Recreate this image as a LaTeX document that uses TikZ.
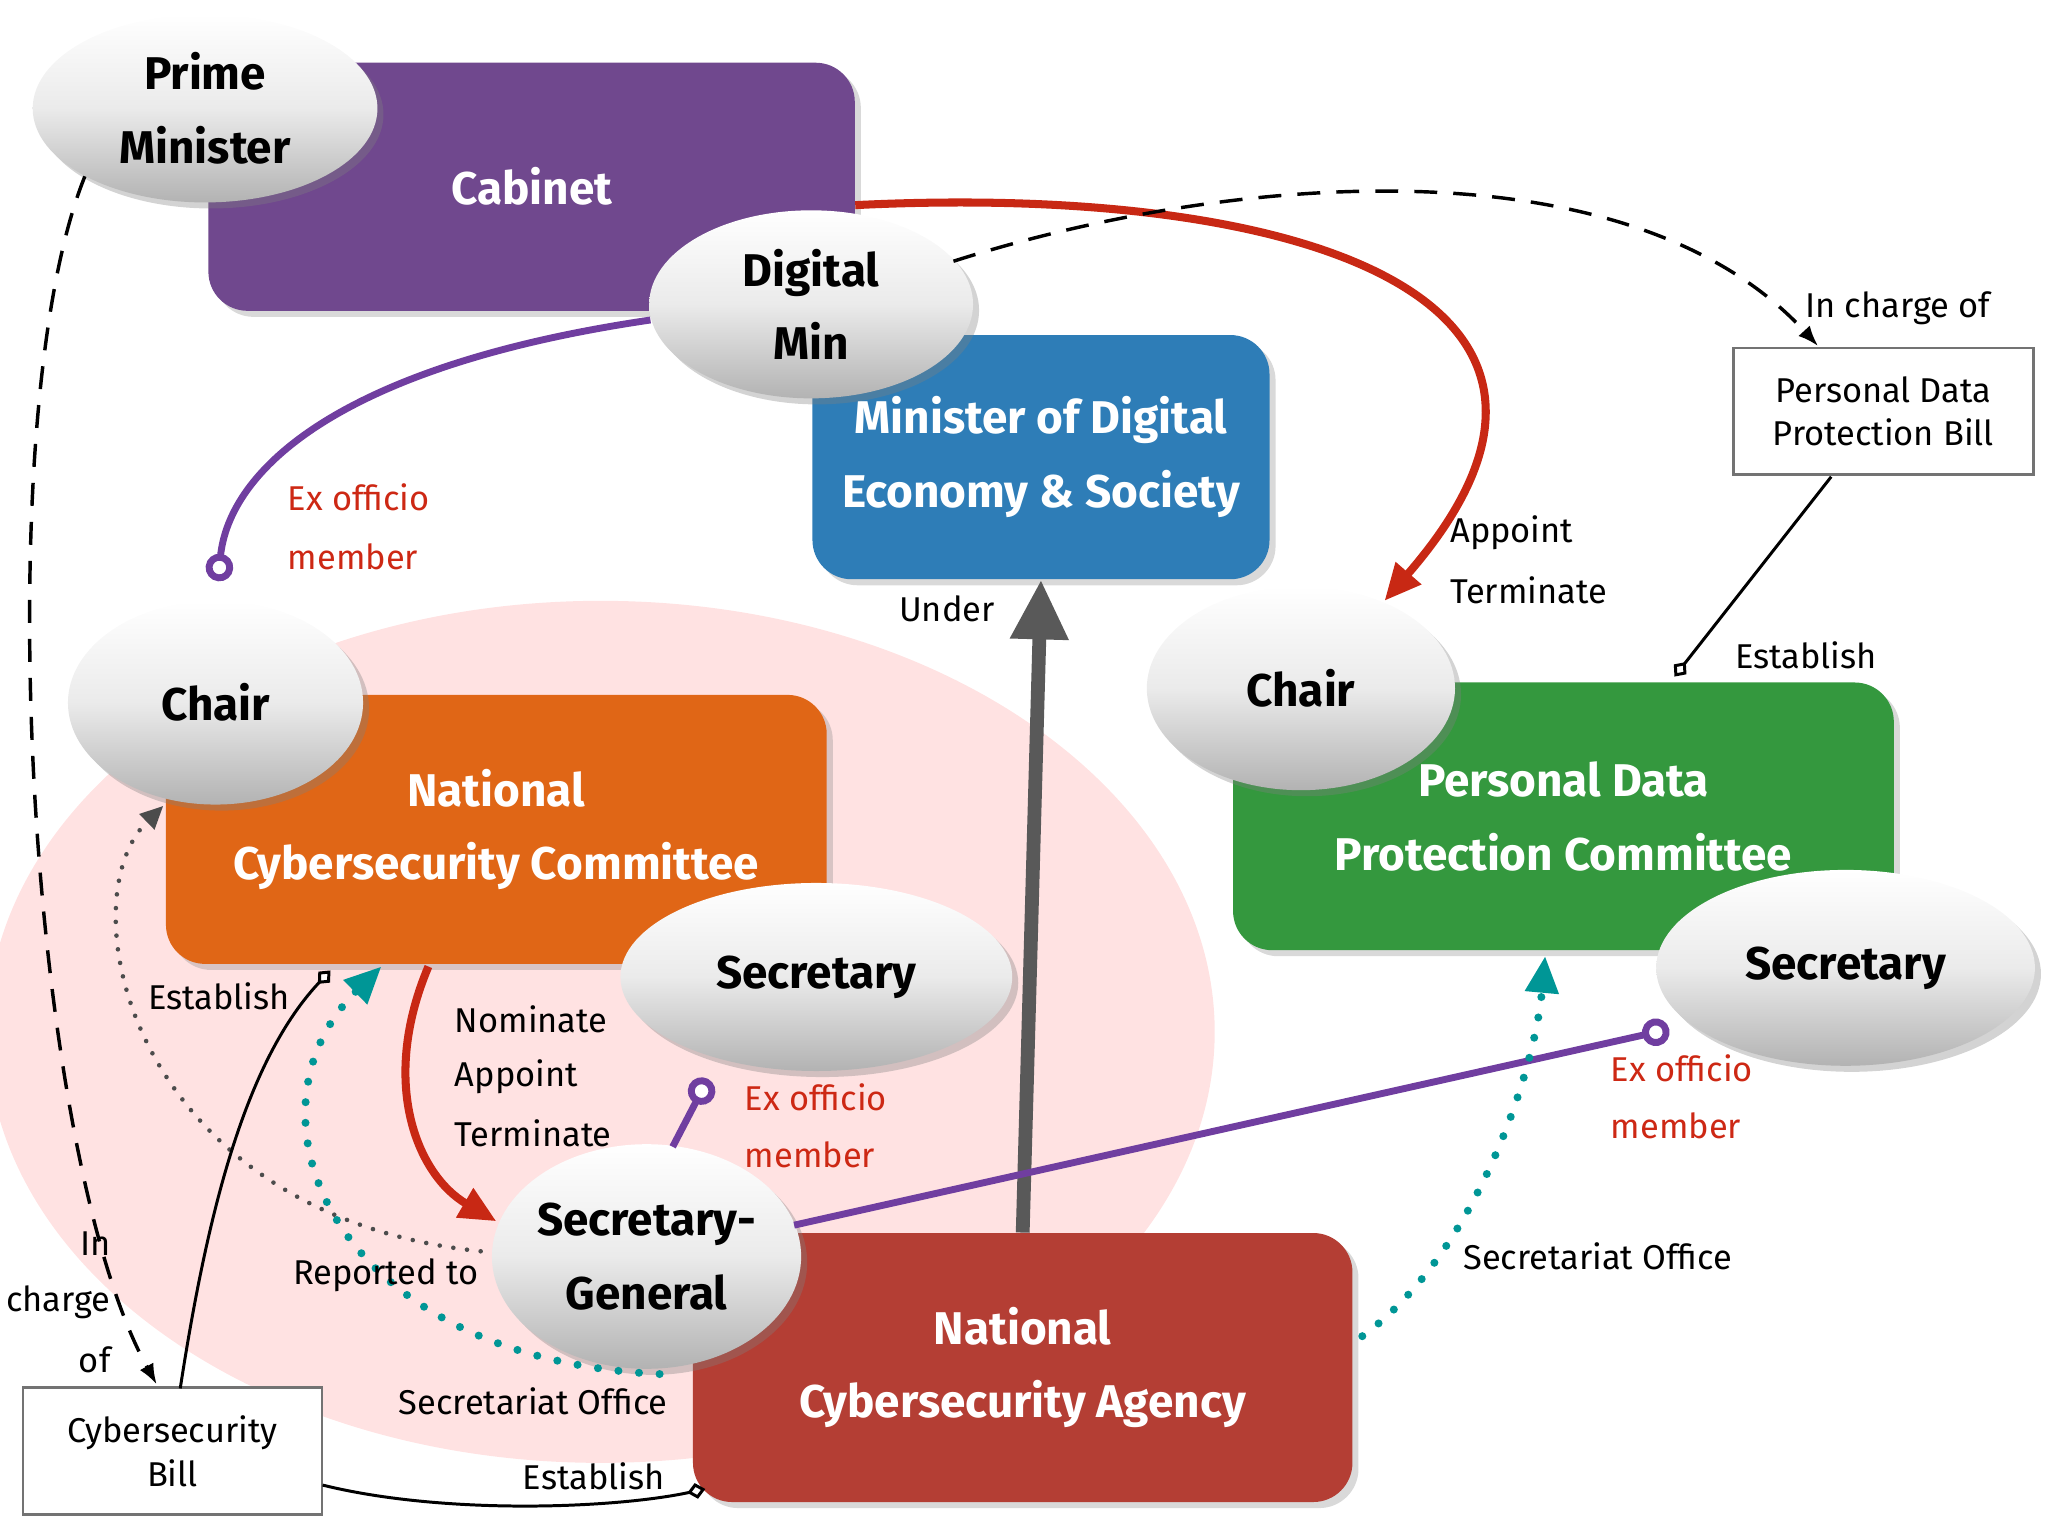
\documentclass[tikz,border=0pt]{standalone}
\usepackage{fontspec}
\setmainfont{Fira Sans}
\usetikzlibrary{arrows.meta,shapes.geometric,shadows}
\definecolor{cabc}{RGB}{112,72,142}
\definecolor{mdesc}{RGB}{46,125,183}
\definecolor{nccc}{RGB}{224,102,22}
\definecolor{ncac}{RGB}{180,62,52}
\definecolor{pdpc}{RGB}{52,152,62}
\definecolor{pinkc}{RGB}{255,226,226}
\definecolor{redl}{RGB}{200,40,20}
\definecolor{purl}{RGB}{112,62,160}
\definecolor{tealc}{RGB}{0,150,150}
\definecolor{labred}{RGB}{205,40,20}
\begin{document}
\begin{tikzpicture}[x=0.02cm,y=-0.02cm,
  bx/.style={rectangle,rounded corners=0.6cm,text=white,font=\fontsize{20}{32}\selectfont\bfseries,align=center,drop shadow={opacity=0.3}},
  ov/.style={ellipse,top color=white,bottom color=black!30,middle color=black!8,font=\fontsize{20}{32}\selectfont\bfseries,align=center,drop shadow={opacity=0.35},inner sep=0pt},
  bill/.style={rectangle,draw=black!55,line width=1.2pt,fill=white,font=\fontsize{15}{19}\selectfont,align=center},
  lab/.style={font=\fontsize{15}{20}\selectfont,anchor=west,inner sep=0pt},
  rlab/.style={lab,text=labred},
  purline/.style={purl,line width=3pt,-{Circle[open,length=12pt,width=12pt,fill=white]}},
  redarr/.style={redl,line width=3.5pt,-{Triangle[length=16pt,width=14pt]}},
  tealdot/.style={tealc,line width=3.5pt,line cap=round,dash pattern=on 0pt off 9pt,-{Triangle[length=16pt,width=14pt]}},
  blk/.style={black,line width=1.3pt,-{Diamond[open,length=8pt,width=7pt,fill=white]}}
]
\useasboundingbox (0,0) rectangle (1568,1176);
\fill[pinkc] (460,790) ellipse [x radius=470, y radius=330];

\node[bx,fill=cabc,minimum width=9.9cm,minimum height=3.8cm] (cab) at (407,143) {Cabinet};
\node[bx,fill=mdesc,minimum width=7cm,minimum height=3.74cm] (mdes) at (797,350) {Minister of Digital\\Economy \& Society};
\node[bx,fill=nccc,minimum width=10.12cm,minimum height=4.12cm] (ncc) at (380,635) {National\\Cybersecurity Committee};
\node[bx,fill=ncac,minimum width=10.1cm,minimum height=4.12cm] (nca) at (783,1047) {National\\Cybersecurity Agency};
\node[bx,fill=pdpc,minimum width=10.12cm,minimum height=4.1cm] (pdpc) at (1197,625) {Personal Data\\Protection Committee};

\node[ov,minimum width=5.28cm,minimum height=2.88cm] (pm) at (157,83) {Prime\\Minister};
\node[ov,minimum width=4.96cm,minimum height=2.88cm] (dm) at (621,233) {Digital\\Min};
\node[ov,minimum width=4.52cm,minimum height=3.12cm] (chl) at (165,538) {Chair};
\node[ov,minimum width=6cm,minimum height=2.88cm] (secl) at (625,748) {Secretary};
\node[ov,minimum width=4.72cm,minimum height=3.44cm] (sg) at (495,962) {Secretary-\\General};
\node[ov,minimum width=4.72cm,minimum height=3.12cm] (chr) at (996,527) {Chair};
\node[ov,minimum width=5.8cm,minimum height=3cm] (secr) at (1413,741) {Secretary};

\node[bill,minimum width=4.6cm,minimum height=1.94cm] (pdpb) at (1442,315) {Personal Data\\Protection Bill};
\node[bill,minimum width=4.58cm,minimum height=1.94cm] (cb) at (132,1111) {Cybersecurity\\Bill};

\coordinate (c1) at (1060,460);
\coordinate (c2) at (167,445);
\coordinate (c3) at (542,826);
\coordinate (c4) at (1278,788);
\coordinate (c5) at (380,935);
\coordinate (c6) at (292,740);
\coordinate (c7) at (1183,732);
\coordinate (c8) at (125,617);
\coordinate (c9) at (1282,518);
\coordinate (c10) at (253,743);
\coordinate (c11) at (540,1140);
\coordinate (c12) at (1392,265);
\coordinate (c13) at (120,1060);

% connectors
\draw[gray!70!black,line width=6pt,-{Triangle[length=26pt,width=24pt]}] (nca.north) -- ([xshift=0pt]mdes.south);
\draw[redarr] ([yshift=-8pt]cab.east) .. controls (1000,140) and (1260,230) .. (c1);
\draw[black,line width=1.5pt,dash pattern=on 10pt off 7pt,-{Latex[length=9pt]}] (730,200) .. controls (950,130) and (1250,110) .. (c12);
\draw[black,line width=1.5pt,dash pattern=on 10pt off 7pt,-{Latex[length=9pt]}] (65,135) .. controls (-10,320) and (20,880) .. (c13);
\draw[purline] (498,245) .. controls (260,280) and (175,360) .. (c2);
\draw[redarr] (328,740) .. controls (290,830) and (320,900) .. (c5);
\draw[purline] (515,878) -- (c3);
\draw[purline] (608,938) -- (c4);
\draw[gray!60!black,line width=2pt,line cap=round,dash pattern=on 0pt off 6pt,-{Triangle[length=10pt,width=9pt]}] (368,958) .. controls (100,930) and (50,690) .. (c8);
\draw[tealdot] (505,1052) .. controls (250,1040) and (180,850) .. (c6);
\draw[tealdot] (1043,1023) .. controls (1130,960) and (1175,820) .. (c7);
\draw[blk] (1402,365) -- (c9);
\draw[blk] (138,1063) .. controls (160,920) and (190,810) .. (c10);
\draw[blk] (247,1137) .. controls (340,1160) and (470,1155) .. (c11);

% labels
\node[rlab] at (220,381) {Ex officio};
\node[rlab] at (220,426) {member};
\node[rlab] at (570,840) {Ex officio};
\node[rlab] at (570,884) {member};
\node[rlab] at (1233,818) {Ex officio};
\node[rlab] at (1233,862) {member};
\node[lab] at (688,466) {Under};
\node[lab] at (1110,408) {Appoint};
\node[lab] at (1110,452) {Terminate};
\node[lab] at (1328,502) {Establish};
\node[lab] at (1382,236) {In charge of};
\node[lab] at (348,780) {Nominate};
\node[lab] at (348,824) {Appoint};
\node[lab] at (348,868) {Terminate};
\node[lab] at (113,763) {Establish};
\node[lab] at (224,976) {Reported to};
\node[lab] at (305,1073) {Secretariat Office};
\node[lab] at (1120,962) {Secretariat Office};
\node[lab] at (400,1130) {Establish};
\node[lab,anchor=east] at (85,952) {In};
\node[lab,anchor=east] at (85,997) {charge};
\node[lab,anchor=east] at (85,1041) {of};
\end{tikzpicture}
\end{document}
